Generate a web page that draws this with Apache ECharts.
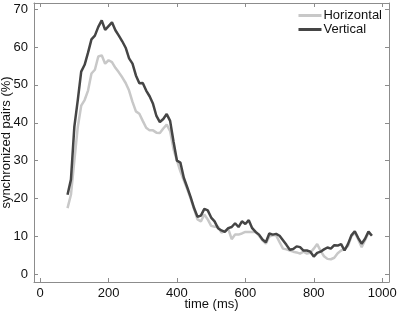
<!DOCTYPE html>
<html lang="en">
<head>
    <meta charset="utf-8">
    <title>synchronized pairs</title>
    <script src="https://cdn.jsdelivr.net/npm/echarts@6/dist/echarts.min.js"></script>
</head>
<body style="margin:0">
    <div id="main" style="width: 397px;height:313px;"></div>
    <script>
    // time grid (ms) shared by both curves
    var times = [80, 90, 100, 110, 120, 130, 140, 150, 160, 170, 180, 190, 200, 210, 220, 230, 240, 250,
        260, 270, 280, 290, 300, 310, 320, 330, 340, 350, 360, 370, 380, 390, 400, 410, 420, 430, 440,
        450, 460, 470, 480, 490, 500, 510, 520, 530, 540, 550, 560, 570, 580, 590, 600, 610, 620, 630,
        640, 650, 660, 670, 680, 690, 700, 710, 720, 730, 740, 750, 760, 770, 780, 790, 800, 810, 820,
        830, 840, 850, 860, 870, 880, 890, 900, 910, 920, 930, 940, 950, 960, 970];

    var horizontal = [17.5, 21, 30, 38.9, 44.5, 46, 48.5, 53, 54, 57.5, 57.8, 55.6, 56.5, 56, 54.5, 53.3, 52, 50.5,
        48.5, 45.5, 43, 42.4, 40.5, 38.7, 38, 38, 37.4, 37.3, 38.5, 39.5, 37.8, 33, 30, 27.2, 24.8, 22.5, 20,
        17.2, 14.5, 14, 15.8, 14.5, 12.8, 12.6, 12.6, 11, 11.5, 12, 9.3, 10.5, 10.5, 10.8, 11.2, 11.2, 11.2, 11.2,
        10.2, 9, 8.1, 10, 10.3, 10.3, 8.5, 6.8, 6.6, 6.3, 6, 5.8, 5.5, 6, 5.5, 5.7, 6.8, 8, 6.2,
        4.8, 4.1, 4, 4.4, 5.6, 6.3, 6.8, 7.5, 10, 11, 9.2, 7.2, 9, 11, 10.3];

    var vertical = [21, 25, 39, 46, 53.5, 55.3, 58.5, 62, 63, 65.3, 67, 64.5, 65.5, 66.5, 64.4, 63, 61.5, 59.8,
        57, 55.6, 52.5, 50.4, 50.5, 48.5, 47, 45, 41.8, 40.2, 41, 42.3, 40.5, 35, 30, 29.5, 25.5, 23, 20.4,
        17.5, 15.2, 15.5, 17.3, 16.9, 15, 14, 12.2, 11.6, 11.2, 12.2, 12.5, 13.5, 12.5, 14, 13.3, 14.3, 12.2, 11.2,
        10.5, 9.2, 8.5, 10.8, 10.5, 10.7, 10.2, 9, 7.8, 6.5, 6.7, 7.4, 7.2, 6.3, 6.3, 6, 4.7, 5.7, 6,
        6.6, 7.1, 6.8, 7.7, 7.6, 8, 6.3, 8, 10.3, 11.4, 9.6, 8.1, 9.4, 11.3, 10.2];

    var xTicks = [0, 200, 400, 600, 800, 1000];
    var yTicks = [0, 10, 20, 30, 40, 50, 60, 70];

    function pairs(vals) {
        return times.map(function (t, i) { return [t, vals[i]]; });
    }

    var boxColor = '#8c8c8c';
    var font = 'Liberation Sans, Arial, sans-serif';

    function xAxis(pos, withLabels) {
        return {
            type: 'value',
            position: pos,
            min: -18,
            max: 1020,
            name: withLabels ? 'time (ms)' : '',
            nameLocation: 'middle',
            nameGap: 16,
            nameMoveOverlap: false,
            nameTextStyle: { fontFamily: font, fontSize: 13, color: '#111', verticalAlign: 'top' },
            splitLine: { show: false },
            axisLine: { show: true, onZero: false, lineStyle: { color: boxColor, width: 1 } },
            axisTick: { show: true, inside: true, length: 4, customValues: xTicks, lineStyle: { color: boxColor } },
            axisLabel: {
                show: withLabels, customValues: xTicks, margin: 5,
                fontFamily: font, fontSize: 13, color: '#111',
                formatter: function (v) { return String(v); }
            }
        };
    }

    function yAxis(pos, withLabels) {
        return {
            type: 'value',
            position: pos,
            min: -2,
            max: 71.6,
            name: withLabels ? 'synchronized pairs (%)' : '',
            nameLocation: 'middle',
            nameGap: 21,
            nameMoveOverlap: false,
            nameTextStyle: { fontFamily: font, fontSize: 13, color: '#111' },
            splitLine: { show: false },
            axisLine: { show: true, onZero: false, lineStyle: { color: boxColor, width: 1 } },
            axisTick: { show: true, inside: true, length: 4, customValues: yTicks, lineStyle: { color: boxColor } },
            axisLabel: {
                show: withLabels, customValues: yTicks, margin: 6,
                fontFamily: font, fontSize: 13, color: '#111',
                formatter: function (v) { return String(v); }
            }
        };
    }

    var myChart = echarts.init(document.getElementById('main'));
    var option = {
        animation: false,
        backgroundColor: '#fff',
        grid: { left: 34, right: 8, top: 3, bottom: 31, outerBoundsMode: 'none', containLabel: false },
        legend: {
            orient: 'vertical',
            right: 10,
            top: 4,
            itemWidth: 23,
            itemHeight: 3,
            itemGap: 1,
            icon: 'rect',
            textStyle: { fontFamily: font, fontSize: 13, color: '#111', padding: [0, 0, 0, -3] },
            data: ['Horizontal', 'Vertical']
        },
        xAxis: [xAxis('bottom', true), xAxis('top', false)],
        yAxis: [yAxis('left', true), yAxis('right', false)],
        series: [
            {
                name: 'Horizontal',
                type: 'line',
                data: pairs(horizontal),
                symbol: 'none',
                color: '#c8c8c8',
                lineStyle: { width: 2.5, color: '#c8c8c8' }
            },
            {
                name: 'Vertical',
                type: 'line',
                data: pairs(vertical),
                symbol: 'none',
                color: '#454545',
                lineStyle: { width: 2.5, color: '#454545' }
            }
        ]
    };
    myChart.setOption(option);
    </script>
</body>
</html>
